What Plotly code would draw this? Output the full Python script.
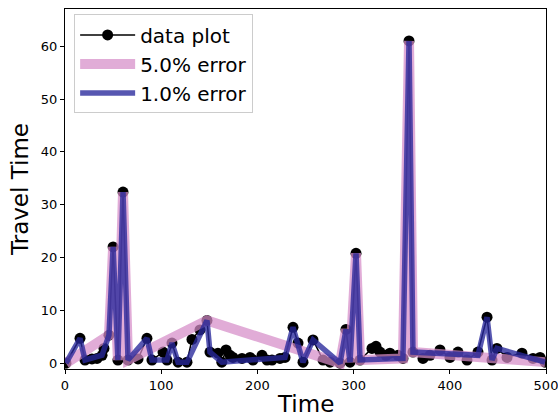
import plotly.graph_objects as go

# Data
time = [1, 15.6, 20.8, 28, 33.3, 38.5, 40.5, 45.7, 50, 55, 60.3, 65.5, 75.9, 85.2, 90.4,
        101.9, 106, 111.2, 117.5, 126.8, 132, 140.3, 147.6, 150.7, 159, 163, 167.4, 171.5,
        174.6, 184, 192.3, 195.4, 204.8, 210, 215.2, 223.5, 228.7, 237, 242.2, 247.4, 257.8,
        268.2, 275.5, 285.9, 292.1, 296.3, 302.5, 306.7, 319.1, 323.3, 327.4, 333.7, 337.8,
        346.2, 351.3, 357.6, 361.7, 372.1, 379.4, 389.8, 400.2, 408.5, 417.9, 429.3, 438.7,
        443.9, 449, 459.5, 475, 486.5, 493.8, 499]
travel = [0, 4.7, 0.6, 0.8, 0.9, 1.5, 2.8, 5.3, 22, 0.6, 32.4, 0.6, 0.8, 4.7, 0.6,
          2.1, 0.6, 3.8, 0.2, 0.2, 4.5, 6.3, 8.1, 2.1, 1.9, 0.2, 2.5, 1.5,
          1.1, 0.9, 1.1, 0.6, 1.5, 0.6, 0.6, 0.9, 1.1, 6.8, 3.8, 0.2, 4.4,
          0.6, 0.2, 0.0, 6.4, 0.2, 20.8, 0.6, 2.8, 3.2, 2.1, 1.5, 1.9,
          1.5, 0.9, 61.0, 2.1, 0.9, 1.5, 2.5, 1.1, 2.1, 0.6, 2.1, 8.7,
          0.6, 2.8, 1.1, 1.9, 0.9, 1.1, 0.2]

# 5.0% error approximation (subset of points)
t5 = [1, 45.7, 50, 55, 60.3, 65.5, 147.6, 285.9, 292.1, 296.3, 302.5, 306.7, 351.3,
      357.6, 361.7, 499]
y5 = [0, 5.3, 22, 0.6, 32.4, 0.6, 8.1, 0.0, 6.4, 0.2, 20.8, 0.6, 0.9,
      61.0, 2.1, 0.2]

# 1.0% error approximation (subset of points)
t1 = [1, 15.6, 20.8, 38.5, 45.7, 50, 55, 60.3, 65.5, 85.2, 90.4, 106, 111.2, 117.5,
      126.8, 147.6, 150.7, 163, 228.7, 237, 247.4, 257.8, 285.9, 292.1, 296.3, 302.5,
      306.7, 351.3, 357.6, 361.7, 429.3, 438.7, 443.9, 449, 499]
y1 = [0, 4.7, 0.6, 1.5, 5.3, 22, 0.6, 32.4, 0.6, 4.7, 0.6, 0.6, 3.8, 0.2,
      0.2, 8.1, 2.1, 0.2, 1.1, 6.8, 0.2, 4.4, 0.0, 6.4, 0.2, 20.8,
      0.6, 0.9, 61.0, 2.1, 1.5, 8.7, 0.6, 2.8, 0.2]

xticks = [0, 100, 200, 300, 400, 500]
yticks = [0, 10, 20, 30, 40, 50, 60]

FONT = "DejaVu Sans"

fig = go.Figure()
fig.add_trace(go.Scatter(
    x=time, y=travel, mode="lines+markers", name="data plot",
    line=dict(color="black", width=1.5),
    marker=dict(color="black", size=11, symbol="circle"),
))
fig.add_trace(go.Scatter(
    x=t5, y=y5, mode="lines", name="5.0% error",
    line=dict(color="rgba(214,140,200,0.72)", width=10),
))
fig.add_trace(go.Scatter(
    x=t1, y=y1, mode="lines", name="1.0% error",
    line=dict(color="rgba(40,40,155,0.78)", width=5.5),
))

fig.update_layout(
    width=558, height=418,
    margin=dict(l=65, r=12, t=9, b=49),
    paper_bgcolor="white", plot_bgcolor="white",
    font=dict(family=FONT, color="black"),
    showlegend=True,
    legend=dict(
        x=0.019, y=0.985, xanchor="left", yanchor="top",
        bgcolor="rgba(255,255,255,0.8)", bordercolor="#cccccc", borderwidth=1,
        font=dict(size=20, family=FONT, color="black"),
        itemwidth=55, tracegroupgap=0,
    ),
    xaxis=dict(
        range=[0, 500], tickvals=xticks, ticktext=[str(v) for v in xticks],
        showgrid=False, zeroline=False, automargin=False,
        ticklabeloverflow="allow",
        showline=True, linecolor="black", linewidth=1.2, mirror=True,
        ticks="outside", ticklen=4, tickcolor="black", tickwidth=1,
        tickfont=dict(size=13, family=FONT),
    ),
    yaxis=dict(
        range=[-1.1, 67.05], tickvals=yticks, ticktext=[str(v) for v in yticks],
        showgrid=False, zeroline=False, automargin=False,
        ticklabeloverflow="allow",
        showline=True, linecolor="black", linewidth=1.2, mirror=True,
        ticks="outside", ticklen=4, tickcolor="black", tickwidth=1,
        tickfont=dict(size=13, family=FONT),
    ),
    annotations=[
        dict(text="Time", xref="paper", yref="paper", x=0.5, y=-0.098,
             xanchor="center", yanchor="middle", showarrow=False,
             font=dict(size=23, family=FONT, color="black")),
        dict(text="Travel Time", xref="paper", yref="paper", x=-0.0936, y=0.5,
             xanchor="center", yanchor="middle", showarrow=False, textangle=-90,
             font=dict(size=23, family=FONT, color="black")),
    ],
)

fig.write_html("out.html", config={"displayModeBar": False},
               post_script="document.body.style.margin='0';")
